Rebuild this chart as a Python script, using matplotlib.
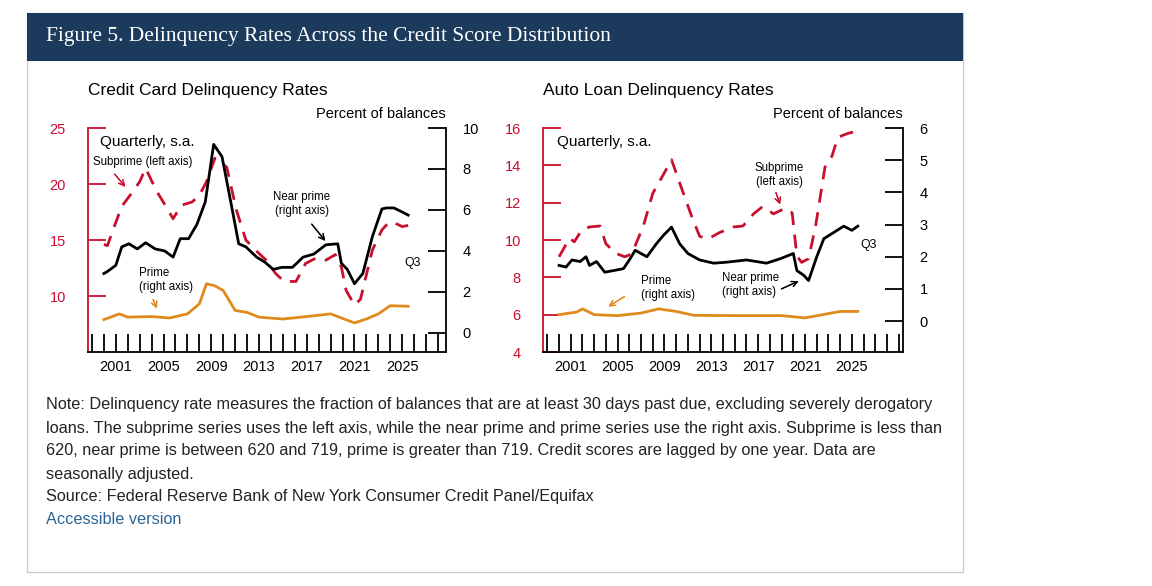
import matplotlib.pyplot as plt
from matplotlib.patches import Rectangle
from matplotlib.ticker import MultipleLocator

# ---- данные: кредитные карты ----
cc_sub_x = [2000.0, 2000.3, 2000.8, 2001.5, 2002.2, 2003.0, 2003.5, 2004.4, 2005.2, 2005.8, 2006.5, 2007.4,
            2008.0, 2008.6, 2009.3, 2010.3, 2011.1, 2011.9, 2012.8, 2013.6, 2014.4, 2015.1, 2016.1,
            2016.9, 2017.8, 2018.6, 2019.4, 2019.9, 2020.3, 2021.0, 2021.5, 2022.5, 2023.3, 2023.9,
            2024.4, 2025.0, 2025.5]
cc_sub_y = [14.6, 14.5, 16.0, 18.0, 19.0, 20.2, 21.4, 19.4, 18.0, 16.9, 18.1, 18.4,
            19.0, 20.2, 22.3, 21.5, 17.7, 15.0, 14.0, 13.2, 12.0, 11.3, 11.3,
            12.9, 13.4, 13.2, 13.7, 12.6, 10.5, 9.2, 9.7, 14.1, 15.9, 16.6,
            16.5, 16.2, 16.3]
cc_near_x = [2000.0, 2000.3, 2001.0, 2001.5, 2002.1, 2002.8, 2003.5, 2004.3, 2005.1, 2005.8, 2006.4, 2007.1,
             2007.8, 2008.5, 2009.2, 2009.9, 2010.6, 2011.3, 2011.9, 2012.8, 2013.5, 2014.2, 2014.9,
             2015.8, 2016.7, 2017.6, 2018.6, 2019.6, 2019.9, 2020.4, 2021.0, 2021.7, 2022.5, 2023.3,
             2023.7, 2024.3, 2025.0, 2025.5]
cc_near_y = [2.9, 3.0, 3.3, 4.2, 4.35, 4.1, 4.4, 4.1, 4.0, 3.7, 4.6, 4.6,
             5.3, 6.4, 9.2, 8.6, 6.5, 4.35, 4.2, 3.7, 3.45, 3.1, 3.2,
             3.2, 3.7, 3.85, 4.3, 4.35, 3.4, 3.1, 2.4, 2.9, 4.7, 6.05,
             6.1, 6.1, 5.9, 5.75]
cc_prime_x = [2000.0, 2001.3, 2002.0, 2004.0, 2005.5, 2007.0, 2008.0, 2008.6, 2009.3, 2010.0, 2011.0, 2012.0,
              2013.0, 2015.0, 2017.0, 2019.0, 2020.5, 2021.0, 2022.0, 2023.0, 2024.0, 2025.5]
cc_prime_y = [0.65, 0.93, 0.77, 0.8, 0.73, 0.93, 1.42, 2.4, 2.3, 2.07, 1.1, 1.0,
              0.77, 0.68, 0.8, 0.93, 0.6, 0.49, 0.68, 0.93, 1.33, 1.3]

# ---- данные: автокредиты ----
al_sub_x = [2000.0, 2000.9, 2001.3, 2001.9, 2002.6, 2003.5, 2004.0, 2004.8, 2005.6, 2006.2, 2007.2, 2008.0,
            2008.9, 2009.6, 2010.5, 2011.3, 2012.0, 2012.7, 2013.7, 2014.9, 2015.7, 2016.6, 2017.4,
            2018.3, 2019.3, 2019.9, 2020.3, 2020.7, 2021.3, 2021.9, 2022.7, 2023.3, 2023.8, 2024.6, 2025.5]
al_sub_y = [9.1, 10.1, 9.9, 10.5, 10.7, 10.75, 9.8, 9.3, 9.1, 9.25, 10.75, 12.5,
            13.5, 14.3, 12.7, 11.3, 10.2, 10.05, 10.4, 10.7, 10.75, 11.4, 11.8,
            11.4, 11.7, 11.45, 9.15, 8.8, 9.0, 10.75, 13.9, 14.5, 15.5, 15.7, 15.85]
al_near_x = [2000.0, 2000.6, 2001.1, 2001.8, 2002.3, 2002.6, 2003.2, 2003.9, 2004.8, 2005.5, 2006.0, 2006.5,
             2007.5, 2008.3, 2008.9, 2009.6, 2010.3, 2011.0, 2012.0, 2013.2, 2014.3, 2016.0, 2017.7,
             2018.9, 2020.0, 2020.3, 2020.9, 2021.3, 2022.0, 2022.6, 2023.3, 2024.3, 2025.0, 2025.5]
al_near_y = [1.73, 1.68, 1.9, 1.85, 2.0, 1.73, 1.85, 1.52, 1.58, 1.63, 1.9, 2.2,
             2.0, 2.4, 2.66, 2.92, 2.4, 2.1, 1.9, 1.8, 1.83, 1.9, 1.8,
             1.94, 2.1, 1.57, 1.42, 1.26, 2.0, 2.56, 2.72, 2.95, 2.82, 2.95]
al_prime_x = [2000.0, 2001.5, 2002.0, 2003.0, 2005.0, 2007.0, 2008.5, 2010.0, 2011.5, 2015.0, 2019.0,
              2021.0, 2022.5, 2024.0, 2025.5]
al_prime_y = [0.2, 0.28, 0.38, 0.2, 0.17, 0.25, 0.38, 0.3, 0.18, 0.17, 0.17, 0.1, 0.2, 0.3, 0.3]

year_labels = [2001, 2005, 2009, 2013, 2017, 2021, 2025]

RED = '#c8102e'
ORANGE = '#e08a1c'
W, H = 1152, 586


def fx(x):
    return x / W


def fy(y):
    return 1 - y / H


def setup_axes(ax, left_lim, left_ticks, right_lim, right_ticks, xlim):
    ax.set_xlim(*xlim)
    ax.set_ylim(*left_lim)
    ax.set_yticks(left_ticks)
    ax.spines['top'].set_visible(False)
    ax.spines['right'].set_visible(False)
    ax.spines['left'].set_color(RED)
    ax.spines['left'].set_linewidth(1.3)
    ax.spines['bottom'].set_linewidth(1.3)
    ax.tick_params(axis='y', direction='in', length=13, width=1.3, color=RED, labelcolor=RED,
                   labelsize=10.5, pad=16)
    ax.set_xticks(year_labels)
    ax.set_xticklabels([str(y) for y in year_labels])
    ax.xaxis.set_minor_locator(MultipleLocator(1))
    ax.tick_params(axis='x', which='both', direction='in', length=13, width=1.3, labelsize=10.5, pad=6)
    ax2 = ax.twinx()
    ax2.set_ylim(*right_lim)
    ax2.set_yticks(right_ticks)
    for s in ['top', 'left', 'bottom']:
        ax2.spines[s].set_visible(False)
    ax2.spines['right'].set_linewidth(1.3)
    ax2.tick_params(axis='y', direction='in', length=13, width=1.3, labelsize=10.5, pad=12)
    return ax2


fig = plt.figure(figsize=(W / 100, H / 100), dpi=100)
plt.rcParams['font.family'] = ['Liberation Sans', 'DejaVu Sans']

# рамка и заголовок
fig.patches.append(Rectangle((fx(27), fy(572)), fx(936), (572 - 13) / H, transform=fig.transFigure,
                             fill=False, edgecolor='#cccccc', lw=1))
fig.patches.append(Rectangle((fx(27), fy(61)), fx(936), 48 / H, transform=fig.transFigure,
                             facecolor='#1b3a5c', edgecolor='none'))
fig.text(fx(46), fy(37), 'Figure 5. Delinquency Rates Across the Credit Score Distribution',
         color='white', fontsize=15.5, family='Liberation Serif', va='center')

# ---- кредитные карты ----
ax1 = fig.add_axes([fx(88), fy(352), 358 / W, 224 / H])
ax1r = setup_axes(ax1, (5, 25), [10, 15, 20, 25], (-0.93, 10), [0, 2, 4, 6, 8, 10], (1998.67, 2028.67))
ax1.plot(cc_sub_x, cc_sub_y, color=RED, lw=2, dashes=(5, 3.5))
ax1r.plot(cc_near_x, cc_near_y, color='black', lw=2)
ax1r.plot(cc_prime_x, cc_prime_y, color=ORANGE, lw=2)

# ---- автокредиты ----
ax2 = fig.add_axes([fx(543), fy(352), 360 / W, 224 / H])
ax2r = setup_axes(ax2, (4, 16), [4, 6, 8, 10, 12, 14, 16], (-0.96, 6), [0, 1, 2, 3, 4, 5, 6], (1998.63, 2029.36))
ax2.plot(al_sub_x, al_sub_y, color=RED, lw=2, dashes=(5, 3.5))
ax2r.plot(al_near_x, al_near_y, color='black', lw=2)
ax2r.plot(al_prime_x, al_prime_y, color=ORANGE, lw=2)

# подписи панелей
for x0, x1, title in [(88, 446, 'Credit Card Delinquency Rates'), (543, 903, 'Auto Loan Delinquency Rates')]:
    fig.text(fx(x0), fy(91), title, fontsize=12.5, va='center')
    fig.text(fx(x1), fy(114), 'Percent of balances', fontsize=10.5, va='center', ha='right')

fs = 8.3
fig.text(fx(100), fy(142), 'Quarterly, s.a.', fontsize=11, va='center')
fig.text(fx(557), fy(142), 'Quarterly, s.a.', fontsize=11, va='center')
fig.text(fx(93), fy(162), 'Subprime (left axis)', fontsize=fs, va='center')
fig.text(fx(302), fy(204), 'Near prime\n(right axis)', fontsize=fs, va='center', ha='center')
fig.text(fx(139), fy(280), 'Prime\n(right axis)', fontsize=fs, va='center')
fig.text(fx(404), fy(263), 'Q3', fontsize=fs + 0.5, va='center')
fig.text(fx(779), fy(175), 'Subprime\n(left axis)', fontsize=fs, va='center', ha='center')
fig.text(fx(641), fy(288), 'Prime\n(right axis)', fontsize=fs, va='center')
fig.text(fx(722), fy(285), 'Near prime\n(right axis)', fontsize=fs, va='center')
fig.text(fx(860), fy(245), 'Q3', fontsize=fs + 0.5, va='center')

arrows = [((113, 172), (127, 189), RED), ((310, 222), (327, 243), 'black'), ((152, 297), (158, 311), ORANGE),
          ((775, 190), (781, 207), RED), ((627, 295), (606, 308), ORANGE), ((779, 290), (801, 280), 'black')]
for (x0, y0), (x1, y1), c in arrows:
    fig.add_artist(plt.annotate('', xy=(fx(x1), fy(y1)), xytext=(fx(x0), fy(y0)), xycoords='figure fraction',
                                arrowprops=dict(arrowstyle='->', color=c, lw=0.9)))

# примечания
notes = [
    'Note: Delinquency rate measures the fraction of balances that are at least 30 days past due, excluding severely derogatory',
    'loans. The subprime series uses the left axis, while the near prime and prime series use the right axis. Subprime is less than',
    '620, near prime is between 620 and 719, prime is greater than 719. Credit scores are lagged by one year. Data are',
    'seasonally adjusted.',
    'Source: Federal Reserve Bank of New York Consumer Credit Panel/Equifax',
]
for i, line in enumerate(notes):
    fig.text(fx(46), fy(405 + 23 * i), line, fontsize=11.7, color='#222222', va='center')
fig.text(fx(46), fy(520), 'Accessible version', fontsize=11.7, color='#2a6496', va='center')

fig.savefig('out.png', dpi=100)
